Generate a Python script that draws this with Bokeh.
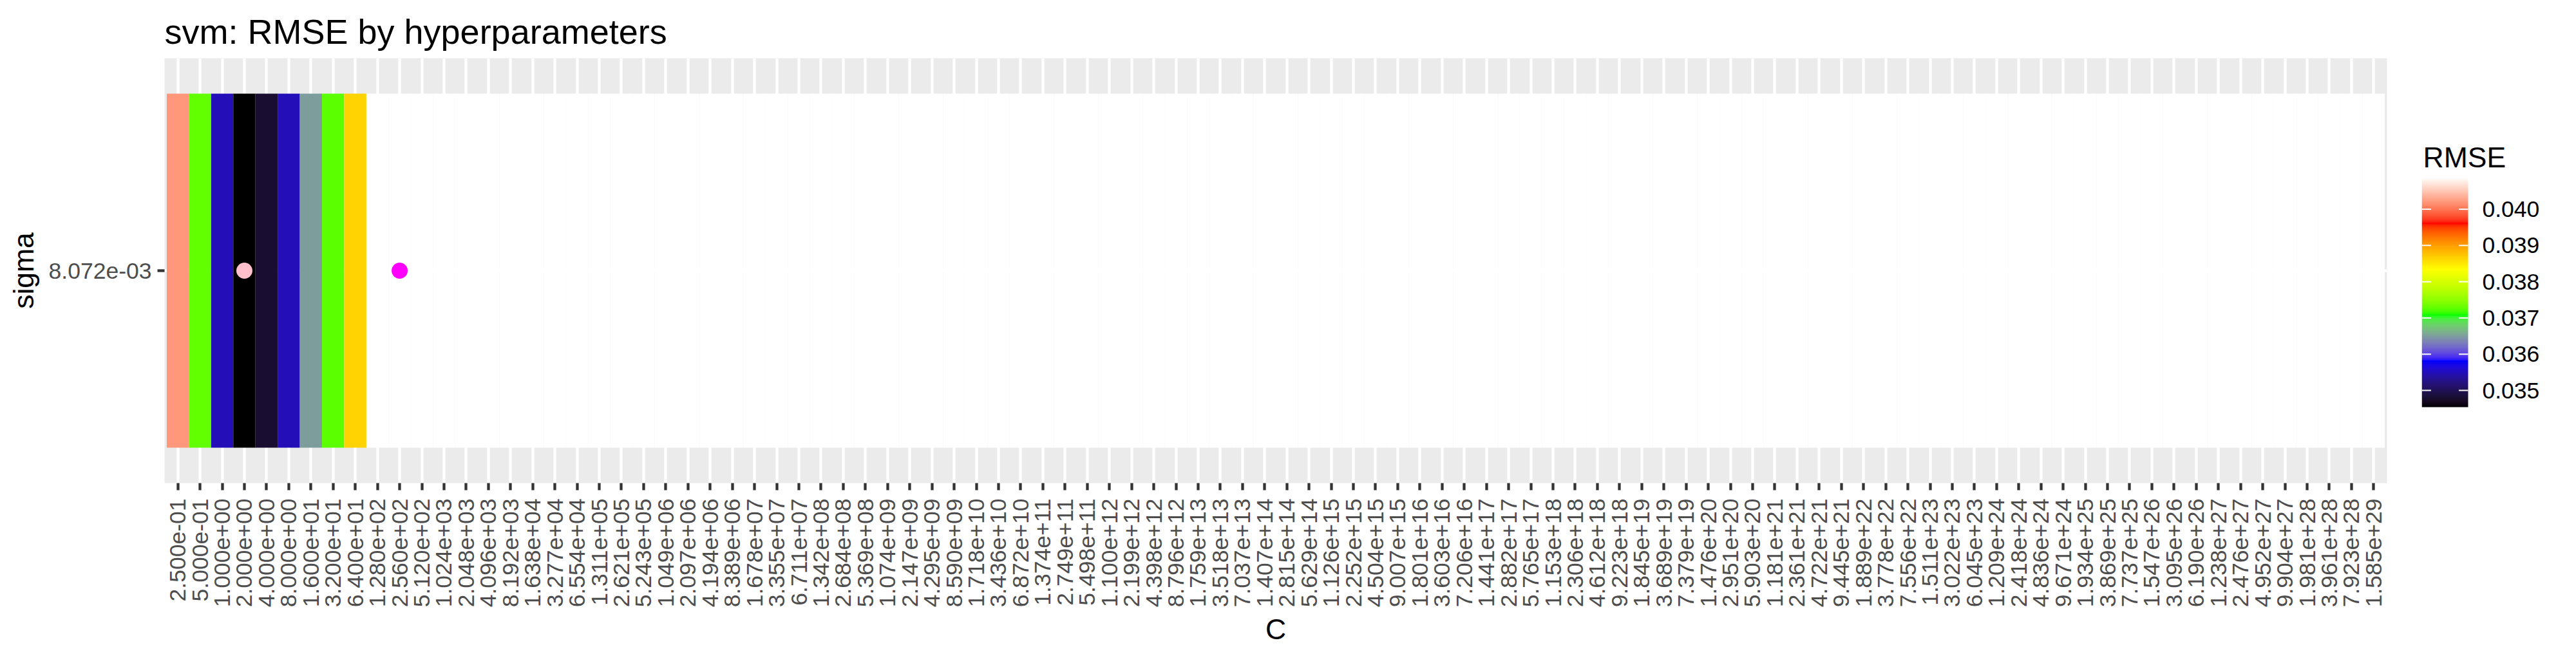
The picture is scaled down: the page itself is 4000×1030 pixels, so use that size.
import numpy as np
from bokeh.plotting import figure
from bokeh.layouts import row
from bokeh.models import FactorRange, Range1d, LinearColorMapper, ColumnDataSource
from bokeh.core.properties import value
from bokeh.transform import transform
from bokeh.embed import file_html
from bokeh.resources import INLINE

# ---------------- data ----------------
C_labels = [
    "2.500e-01", "5.000e-01", "1.000e+00", "2.000e+00", "4.000e+00", "8.000e+00", "1.600e+01", "3.200e+01", "6.400e+01", "1.280e+02",
    "2.560e+02", "5.120e+02", "1.024e+03", "2.048e+03", "4.096e+03", "8.192e+03", "1.638e+04", "3.277e+04", "6.554e+04", "1.311e+05",
    "2.621e+05", "5.243e+05", "1.049e+06", "2.097e+06", "4.194e+06", "8.389e+06", "1.678e+07", "3.355e+07", "6.711e+07", "1.342e+08",
    "2.684e+08", "5.369e+08", "1.074e+09", "2.147e+09", "4.295e+09", "8.590e+09", "1.718e+10", "3.436e+10", "6.872e+10", "1.374e+11",
    "2.749e+11", "5.498e+11", "1.100e+12", "2.199e+12", "4.398e+12", "8.796e+12", "1.759e+13", "3.518e+13", "7.037e+13", "1.407e+14",
    "2.815e+14", "5.629e+14", "1.126e+15", "2.252e+15", "4.504e+15", "9.007e+15", "1.801e+16", "3.603e+16", "7.206e+16", "1.441e+17",
    "2.882e+17", "5.765e+17", "1.153e+18", "2.306e+18", "4.612e+18", "9.223e+18", "1.845e+19", "3.689e+19", "7.379e+19", "1.476e+20",
    "2.951e+20", "5.903e+20", "1.181e+21", "2.361e+21", "4.722e+21", "9.445e+21", "1.889e+22", "3.778e+22", "7.556e+22", "1.511e+23",
    "3.022e+23", "6.045e+23", "1.209e+24", "2.418e+24", "4.836e+24", "9.671e+24", "1.934e+25", "3.869e+25", "7.737e+25", "1.547e+26",
    "3.095e+26", "6.190e+26", "1.238e+27", "2.476e+27", "4.952e+27", "9.904e+27", "1.981e+28", "3.961e+28", "7.923e+28", "1.585e+29",
]
sigma_labels = ["8.072e-03"]

rmse = [
    0.04020, 0.03728, 0.03549, 0.03454, 0.03481, 0.03549, 0.03650, 0.03726, 0.03865, 0.04087,
    0.04088, 0.04088, 0.04088, 0.04088, 0.04088, 0.04088, 0.04088, 0.04088, 0.04088, 0.04088,
    0.04088, 0.04088, 0.04088, 0.04088, 0.04088, 0.04088, 0.04088, 0.04088, 0.04088, 0.04088,
    0.04088, 0.04088, 0.04088, 0.04088, 0.04088, 0.04088, 0.04088, 0.04088, 0.04088, 0.04088,
    0.04088, 0.04088, 0.04088, 0.04088, 0.04088, 0.04088, 0.04088, 0.04088, 0.04088, 0.04088,
    0.04088, 0.04088, 0.04088, 0.04088, 0.04088, 0.04088, 0.04088, 0.04088, 0.04088, 0.04088,
    0.04088, 0.04088, 0.04088, 0.04088, 0.04088, 0.04088, 0.04088, 0.04088, 0.04088, 0.04088,
    0.04088, 0.04088, 0.04088, 0.04088, 0.04088, 0.04088, 0.04088, 0.04088, 0.04088, 0.04088,
    0.04088, 0.04088, 0.04088, 0.04088, 0.04088, 0.04088, 0.04088, 0.04088, 0.04088, 0.04088,
    0.04088, 0.04088, 0.04088, 0.04088, 0.04088, 0.04088, 0.04088, 0.04088, 0.04088, 0.04088,
]
best_C = ["2.000e+00"]
best_sigma = ["8.072e-03"]
chosen_C = ["2.560e+02"]
chosen_sigma = ["8.072e-03"]

legend_ticks = [0.035, 0.036, 0.037, 0.038, 0.039, 0.040]
gradient_colors = ["#000000", "#0000FF", "#00FF00", "#FFFF00", "#FF0000", "#FFFFFF"]

# ---------------- colour ramp (CIELAB interpolation, like ggplot) ----------------
def hex_to_lab(h):
    rgb = [int(h[i:i + 2], 16) / 255 for i in (1, 3, 5)]
    lin = [c / 12.92 if c <= 0.04045 else ((c + 0.055) / 1.055) ** 2.4 for c in rgb]
    R, G, B = lin
    X = (0.4124564 * R + 0.3575761 * G + 0.1804375 * B) / 0.95047
    Y = (0.2126729 * R + 0.7151522 * G + 0.0721750 * B)
    Z = (0.0193339 * R + 0.1191920 * G + 0.9503041 * B) / 1.08883
    f = lambda t: t ** (1 / 3) if t > 0.008856 else 7.787 * t + 16 / 116
    fx, fy, fz = f(X), f(Y), f(Z)
    return (116 * fy - 16, 500 * (fx - fy), 200 * (fy - fz))

def lab_to_hex(L, a, b):
    fy = (L + 16) / 116
    fx = fy + a / 500
    fz = fy - b / 200
    finv = lambda t: t ** 3 if t ** 3 > 0.008856 else (t - 16 / 116) / 7.787
    X, Y, Z = finv(fx) * 0.95047, finv(fy), finv(fz) * 1.08883
    R = 3.2404542 * X - 1.5371385 * Y - 0.4985314 * Z
    G = -0.9692660 * X + 1.8760108 * Y + 0.0415560 * Z
    B = 0.0556434 * X - 0.2040259 * Y + 1.0572252 * Z
    def gam(c):
        c = min(max(c, 0.0), 1.0)
        return 12.92 * c if c <= 0.0031308 else 1.055 * c ** (1 / 2.4) - 0.055
    return "#%02x%02x%02x" % tuple(int(round(gam(c) * 255)) for c in (R, G, B))

labs = [hex_to_lab(c) for c in gradient_colors]
N = 512
palette = []
for i in range(N):
    t = i / (N - 1) * (len(labs) - 1)
    k = min(int(t), len(labs) - 2)
    u = t - k
    palette.append(lab_to_hex(*[labs[k][j] * (1 - u) + labs[k + 1][j] * u for j in range(3)]))

lo, hi = min(rmse), max(rmse)
mapper = LinearColorMapper(palette=palette, low=lo, high=hi)

FONT = "Liberation Sans"
TOTAL_W, H = 3984, 1014
MAIN_W = 3740
B_TOP, B_BOTTOM = 90, 264

# ---------------- main heatmap ----------------
p = figure(
    width=MAIN_W, height=H,
    x_range=FactorRange(factors=C_labels, range_padding=0.1, range_padding_units="absolute"),
    y_range=FactorRange(factors=sigma_labels, range_padding=0.1, range_padding_units="absolute"),
    output_backend="svg", toolbar_location=None,
    min_border_left=255, min_border_right=MAIN_W - 3706, min_border_top=B_TOP, min_border_bottom=B_BOTTOM,
)
p.background_fill_color = "#EBEBEB"
p.border_fill_color = "white"
p.outline_line_color = None

p.title.text = "svm: RMSE by hyperparameters"
p.title.text_font = FONT
p.title.text_font_size = "54px"
p.title.text_font_style = "normal"
p.title.text_color = "black"
p.title.standoff = 24

for g in (p.xgrid, p.ygrid):
    g.grid_line_color = "white"
    g.grid_line_width = 4.3

xa = p.xaxis[0]
xa.axis_line_color = None
xa.major_tick_out = 11
xa.major_tick_in = 0
xa.major_tick_line_color = "#333333"
xa.major_tick_line_width = 4.3
xa.major_label_orientation = np.pi / 2
xa.major_label_standoff = 13
xa.major_label_text_font = FONT
xa.major_label_text_font_size = "35.5px"
xa.major_label_text_color = "#4D4D4D"
xa.axis_label = "C"
xa.axis_label_text_font = FONT
xa.axis_label_text_font_size = "44.5px"
xa.axis_label_text_font_style = "normal"
xa.axis_label_text_color = "black"
xa.axis_label_standoff = 7

ya = p.yaxis[0]
ya.axis_line_color = None
ya.major_tick_out = 11
ya.major_tick_in = 0
ya.major_tick_line_color = "#333333"
ya.major_tick_line_width = 4.3
ya.major_label_standoff = 9
ya.major_label_text_font = FONT
ya.major_label_text_font_size = "35.5px"
ya.major_label_text_color = "#4D4D4D"
ya.axis_label = "sigma"
ya.axis_label_text_font = FONT
ya.axis_label_text_font_size = "44.5px"
ya.axis_label_text_font_style = "normal"
ya.axis_label_text_color = "black"
ya.axis_label_standoff = 12

src = ColumnDataSource(dict(C=C_labels, sigma=sigma_labels * len(C_labels), rmse=rmse))
p.rect(x="C", y="sigma", width=1, height=1, source=src,
       fill_color=transform("rmse", mapper), line_color=None)

p.scatter(x=best_C, y=best_sigma, size=25, fill_color="#FFC0CB", line_color=None)
p.scatter(x=chosen_C, y=chosen_sigma, size=25, fill_color="#FF00FF", line_color=None)

# ---------------- colour-bar legend (its own frame, same borders as the heatmap) ----------------
LEG_W = TOTAL_W - MAIN_W
LEFT = 20                       # bar's left edge inside the legend figure
BAR_W, BAR_TOP, BAR_H = 72, 275, 357
frame_w = LEG_W - LEFT
frame_top, frame_bot = B_TOP, H - B_BOTTOM
s = (hi - lo) / BAR_H                                   # value per pixel
y_top = hi + (BAR_TOP - frame_top) * s
y_bot = lo - (frame_bot - (BAR_TOP + BAR_H)) * s

lg = figure(
    width=LEG_W, height=H,
    x_range=Range1d(0, frame_w / BAR_W), y_range=Range1d(y_bot, y_top),
    output_backend="svg", toolbar_location=None,
    x_axis_location=None, y_axis_location=None,
    min_border_left=LEFT, min_border_right=0, min_border_top=B_TOP, min_border_bottom=B_BOTTOM,
)
lg.outline_line_color = None
lg.background_fill_color = "white"
lg.border_fill_color = "white"
lg.xgrid.visible = False
lg.ygrid.visible = False

grad = np.linspace(lo, hi, N).reshape(N, 1)
lg.image(image=[grad], x=0, y=lo, dw=1, dh=hi - lo, color_mapper=mapper)
nt = len(legend_ticks)
lg.segment(x0=[0.0] * nt, x1=[0.2] * nt, y0=legend_ticks, y1=legend_ticks, line_color="white", line_width=2)
lg.segment(x0=[0.8] * nt, x1=[1.0] * nt, y0=legend_ticks, y1=legend_ticks, line_color="white", line_width=2)

lg.text(x=[(BAR_W + 22) / BAR_W] * nt, y=legend_ticks, text=["%.3f" % v for v in legend_ticks],
        text_font=value(FONT), text_font_size="35.5px", text_color="black",
        text_align="left", text_baseline="middle")
lg.text(x=[2 / BAR_W], y=[hi + (BAR_TOP - 244) * s], text=["RMSE"],
        text_font=value(FONT), text_font_size="44.5px", text_color="black",
        text_align="left", text_baseline="alphabetic")

layout = row(p, lg)
open("out.html", "w").write(file_html(layout, INLINE))
